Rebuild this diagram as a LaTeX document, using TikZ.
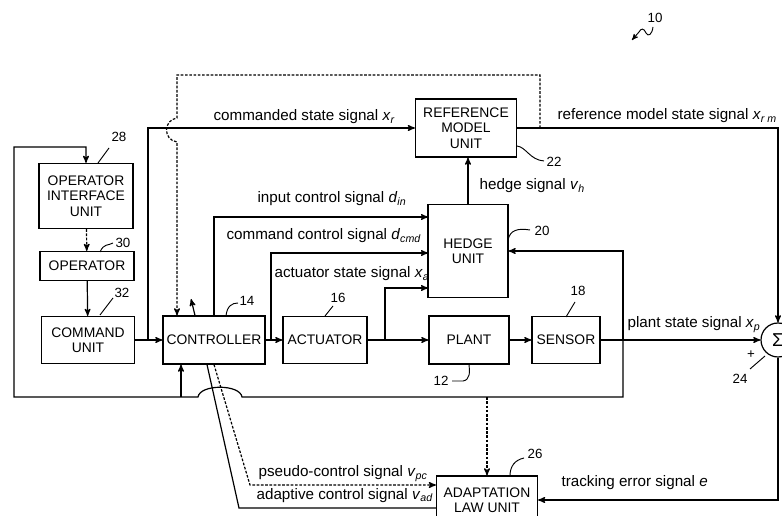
\documentclass[tikz,border=0pt]{standalone}
\usepackage{fontspec}
\setmainfont{Liberation Sans}
\usetikzlibrary{arrows,shapes}
\newcommand{\sg}[2]{\textit{#1}\textsubscript{\textit{#2}}}

\begin{document}
\begin{tikzpicture}[->,>=stealth',x=0.75pt,y=-0.75pt,line width=0.9pt,font=\fontsize{11.4}{13}\selectfont]
 \tikzstyle{block}=[draw,rectangle,align=center,inner sep=0pt,font=\fontsize{10.4}{11.5}\selectfont]
 \tikzstyle{sig}=[anchor=base west,inner sep=0pt]
 \tikzstyle{num}=[inner sep=0pt,font=\fontsize{10}{12}\selectfont]
 \tikzstyle{dots}=[dash pattern=on 2pt off 1.2pt]
 \tikzstyle{lead}=[-,line width=0.7pt]

 \useasboundingbox (0,0) rectangle (782,516);

   \node[block,minimum width=70.5pt,minimum height=48.75pt] (oiu) at (86,196) {OPERATOR\\INTERFACE\\UNIT};
   \node[block,minimum width=70.5pt,minimum height=21.75pt] (op) at (87,266) {OPERATOR};
   \node[block,minimum width=69.75pt,minimum height=35.25pt] (cmd) at (88,340) {COMMAND\\UNIT};
   \node[block,minimum width=76.5pt,minimum height=36pt] (ctrl) at (214,340) {CONTROLLER};
   \node[block,minimum width=63pt,minimum height=35.25pt] (act) at (325,340) {ACTUATOR};
   \node[block,minimum width=60pt,minimum height=36pt] (plant) at (469,340) {PLANT};
   \node[block,minimum width=51pt,minimum height=35.25pt] (sensor) at (566,340) {SENSOR};
   \node[block,minimum width=60pt,minimum height=69.75pt] (hedge) at (468,251) {HEDGE\\UNIT};
   \node[block,minimum width=75.75pt,minimum height=43.5pt] (ref) at (466,128) {REFERENCE\\MODEL\\UNIT};
   \node[block,minimum width=75.75pt,minimum height=36pt] (adapt) at (487,500) {ADAPTATION\\LAW UNIT};
   \node[draw,circle,minimum size=25.5pt,inner sep=0pt,font=\fontsize{14}{14}\selectfont] (sum) at (778,340) {Σ};

   % junctions
   \coordinate (jcmd) at (148,340);
   \coordinate (jdcmd) at (271,340);
   \coordinate (jxa) at (385,340);
   \coordinate (jxp) at (623,340);
   \coordinate (jrm) at (540,128);
   \coordinate (jctrl) at (181,397);
   \coordinate (jadapt) at (487,397);
   \coordinate (hin1) at (428,217);
   \coordinate (hin2) at (428,253);
   \coordinate (hin3) at (428,288);
   \coordinate (hop) at (177,142);
   \coordinate (bpc) at (250,485);
   \coordinate (bad) at (239,508);
   \coordinate (cup) at (191,299);

   \path[->]
   (oiu) edge [dots] (op)
   (op) edge (cmd)
   (cmd) edge (ctrl)
   (ctrl) edge (act)
   (act) edge (plant)
   (plant) edge (sensor)
   (sensor) edge (sum)
   (hedge.north) edge (hedge.north |- ref.south)
   (jctrl) edge (jctrl |- ctrl.south)
   (jadapt) edge [dots] (adapt.north)
   ([xshift=3pt]ctrl.north west -| cup) edge (cup);

   \draw (jcmd) |- (ref.west);
   \draw (ctrl.north) |- (hin1);
   \draw (jdcmd) |- (hin2);
   \draw (jxa) |- (hin3);
   \draw (ref.east) -| (sum.north);
   \draw (jxp) |- (hedge.east);
   \draw (sum.south) |- (adapt.east);
   \draw[dots] (jrm) -- (540,75) -- (177,75) -- (177,118) .. controls (163,120) and (163,140) .. (hop) -- (hop |- ctrl.north);
   \draw (jxp) -- (623,397) -- (242,397) .. controls (240,384) and (200,384) .. (198,397) -- (14,397) -- (14,147) -| (oiu.north);
   \draw[-] ([xshift=-5.25pt]ctrl.south) -- (bad) -- (bad -| adapt.west);
   \draw[dots] (ctrl.south) -- (bpc) -- (bpc -| adapt.west);

   % signal labels
   \node[sig] at (213,121) {commanded state signal \sg{x}{r}};
   \node[sig] at (557,120) {reference model state signal \sg{x}{r m}};
   \node[sig] at (479,190) {hedge signal \sg{v}{h}};
   \node[sig] at (257,203) {input control signal \sg{d}{in}};
   \node[sig] at (226,240) {command control signal \sg{d}{cmd}};
   \node[sig] at (274,278) {actuator state signal \sg{x}{a}};
   \node[sig] at (627,328) {plant state signal \sg{x}{p}};
   \node[sig] at (258,477) {pseudo-control signal \sg{v}{pc}};
   \node[sig] at (256,499) {adaptive control signal \sg{v}{ad}};
   \node[sig] at (561,486) {tracking error signal \textit{e}};

   % reference numerals
   \node[num] (n28) at (119,137) {28};
   \node[num] (n30) at (123,243) {30};
   \node[num] (n32) at (122,293) {32};
   \node[num] (n14) at (247,301) {14};
   \node[num] (n16) at (338,298) {16};
   \node[num] (n18) at (578,291) {18};
   \node[num] (n20) at (542,231) {20};
   \node[num] (n22) at (554,162) {22};
   \node[num] (n12) at (441,381) {12};
   \node[num] (n24) at (740,379) {24};
   \node[num] (n26) at (535,454) {26};
   \node[num] (n10) at (655,18) {10};
   \node[num] (plus) at (751,355) {+};

   \draw[lead] (98,163) -- (109,148);
   \draw[lead] (100,252) .. controls (104,243) and (108,246) .. (113,243);
   \draw[lead] (100,315) -- (113,298);
   \draw[lead] (226,316) .. controls (227,306) and (232,303) .. (238,303);
   \draw[lead] (325,316) -- (333,306);
   \draw[lead] (566,317) -- (575,302);
   \draw[lead] (508,240) .. controls (510,230) and (518,228) .. (530,230);
   \draw[lead] (517,146) .. controls (526,147) and (530,160) .. (544,161);
   \draw[lead] (452,381) -- (463,381) .. controls (470,380) and (470,372) .. (plant.south);
   \draw[lead] (750,369) -- (765,356);
   \draw[lead] (510,476) .. controls (510,466) and (515,460) .. (524,458);
   \draw[->,line width=0.7pt] (653,27) .. controls (652,35) and (648,37) .. (646,33) .. controls (644,28) and (641,28) .. (639,32) -- (632,40);

\end{tikzpicture}
\end{document}
